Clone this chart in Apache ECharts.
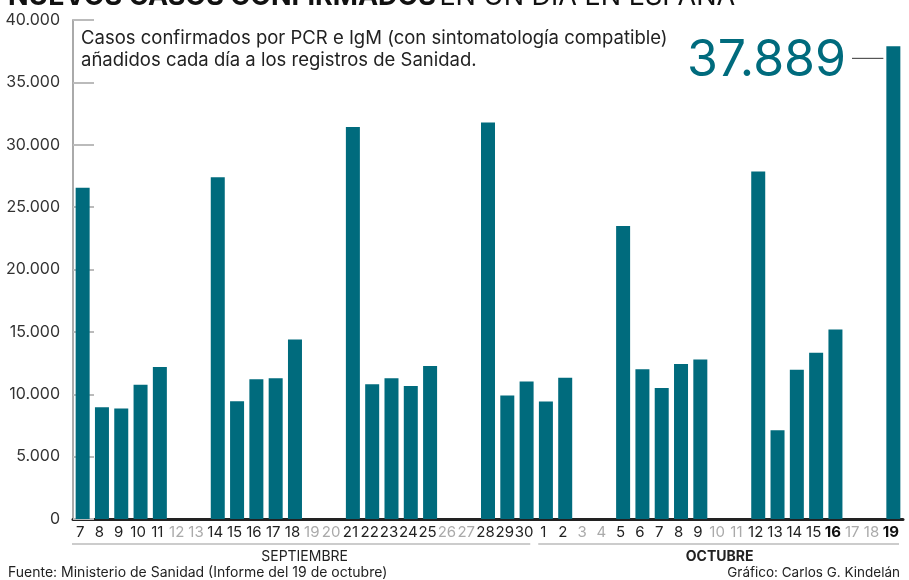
<!DOCTYPE html>
<html>
<head>
<meta charset="utf-8">
<script src="https://cdn.jsdelivr.net/npm/echarts@6/dist/echarts.min.js"></script>
<style>
  html, body { margin: 0; padding: 0; background: #fff; }
  #chart { width: 909px; height: 580px; }
</style>
</head>
<body>
<div id="chart"></div>
<script>
// días (7 sep - 19 oct)
const categories = [
  '7','8','9','10','11','12','13','14','15','16','17','18','19','20',
  '21','22','23','24','25','26','27','28','29','30',
  '1','2','3','4','5','6','7','8','9','10','11','12','13','14','15','16','17','18','19'
]
// casos nuevos añadidos cada día (null = fin de semana, sin datos)
const casos = [
  26560, 8964, 8866, 10764, 12183, null, null, 27404, 9437, 11193, 11291, 14389, null, null,
  31428, 10799, 11289, 10653, 12272, null, null, 31785, 9906, 11016,
  9419, 11325, null, null, 23480, 11998, 10491, 12423, 12788, null, null,
  27856, 7118, 11970, 13318, 15186, null, null, 37889
]
const meses = ['SEPTIEMBRE', 'OCTUBRE']
const diasPorMes = [24, 19]
const destacados = [39, 42]   // 16 y 19 de octubre en negrita
const yTicks = [0, 5000, 10000, 15000, 20000, 25000, 30000, 35000, 40000]

const teal = '#006b7d'
const font = 'Inter'

const chart = echarts.init(document.getElementById('chart'))

const fmt = v => String(v).replace(/\B(?=(\d{3})+(?!\d))/g, '.')

chart.setOption({
  animation: false,
  textStyle: { fontFamily: font },
  grid: { left: 73, right: 6, top: 20, bottom: 61 },
  xAxis: {
    type: 'category',
    data: categories,
    axisLine: { lineStyle: { color: '#222', width: 3 } },
    axisTick: { inside: true, length: 8, lineStyle: { color: '#bbb', width: 1 } },
    axisLabel: {
      interval: 0,
      margin: 6,
      padding: [0, 5, 0, 0],
      formatter: (v, i) => {
        if (destacados.includes(i)) return '{b|' + v + '}'
        if (casos[i] == null) return '{g|' + v + '}'
        return '{n|' + v + '}'
      },
      rich: {
        n: { fontSize: 15, color: '#222', fontFamily: font },
        g: { fontSize: 15, color: '#aaa', fontFamily: font },
        b: { fontSize: 15, color: '#111', fontWeight: 'bold', fontFamily: font }
      }
    }
  },
  yAxis: {
    type: 'value',
    min: yTicks[0],
    max: yTicks[yTicks.length - 1],
    interval: 5000,
    axisLine: { show: true, lineStyle: { color: '#aaa', width: 2 } },
    axisTick: { show: true, inside: true, length: 21, lineStyle: { color: '#bbb', width: 2 } },
    splitLine: { show: false },
    axisLabel: { fontSize: 16, color: '#333', margin: 13, formatter: fmt }
  },
  series: [{
    type: 'bar',
    data: casos,
    barWidth: 14,
    itemStyle: { color: teal },
    z: 3
  }]
})

// decoraciones: meses, título, notas
function decorar() {
  const px = i => chart.convertToPixel({ xAxisIndex: 0 }, i)
  const paso = px(1) - px(0)
  const yLinea = 544
  const elems = []
  let inicio = 0
  meses.forEach((m, k) => {
    const fin = inicio + diasPorMes[k] - 1
    const x0 = px(inicio) - paso / 2 + (k === 0 ? -1 : 2)
    const x1 = px(fin) + paso / 2 - (k === 0 ? 6 : 4)
    elems.push({
      type: 'line',
      shape: { x1: x0, y1: yLinea, x2: x1, y2: yLinea },
      style: { stroke: '#ccc', lineWidth: 2 }
    })
    elems.push({
      type: 'text',
      x: (px(inicio) + px(fin)) / 2, y: 557,
      style: {
        text: m, fill: '#222', font: (k === 1 ? 'bold ' : '') + '14px ' + font,
        align: 'center', verticalAlign: 'middle'
      }
    })
    inicio = fin + 1
  })

  const ultimo = casos.length - 1
  const yTop = chart.convertToPixel({ yAxisIndex: 0 }, casos[ultimo])
  const xUlt = px(ultimo)

  elems.push(
    {
      type: 'text', x: 8, y: 10,
      style: {
        text: '{b|NUEVOS CASOS CONFIRMADOS} {r|EN UN DÍA EN ESPAÑA}',
        verticalAlign: 'bottom',
        rich: {
          b: { font: 'bold 27px ' + font, fill: '#111' },
          r: { font: '27px ' + font, fill: '#111' }
        }
      }
    },
    {
      type: 'text', x: 81, y: 27,
      style: {
        text: 'Casos confirmados por PCR e IgM (con sintomatología compatible)\nañadidos cada día a los registros de Sanidad.',
        font: '18.5px ' + font, fill: '#222', lineHeight: 22, verticalAlign: 'top'
      }
    },
    {
      type: 'text', x: 846, y: 61,
      style: {
        text: fmt(casos[ultimo]), font: '50px ' + font, fill: teal,
        align: 'right', verticalAlign: 'middle'
      }
    },
    {
      type: 'line',
      shape: { x1: 852, y1: yTop + 12, x2: xUlt - 10, y2: yTop + 12 },
      style: { stroke: '#333', lineWidth: 1 }
    },
    {
      type: 'text', x: 8, y: 573,
      style: {
        text: 'Fuente: Ministerio de Sanidad (Informe del 19 de octubre)',
        font: '14px ' + font, fill: '#222', verticalAlign: 'middle'
      }
    },
    {
      type: 'text', x: 900, y: 573,
      style: {
        text: 'Gráfico: Carlos G. Kindelán',
        font: '13.5px ' + font, fill: '#222', align: 'right', verticalAlign: 'middle'
      }
    }
  )
  chart.setOption({ graphic: { elements: elems } })
}
decorar()
</script>
</body>
</html>
